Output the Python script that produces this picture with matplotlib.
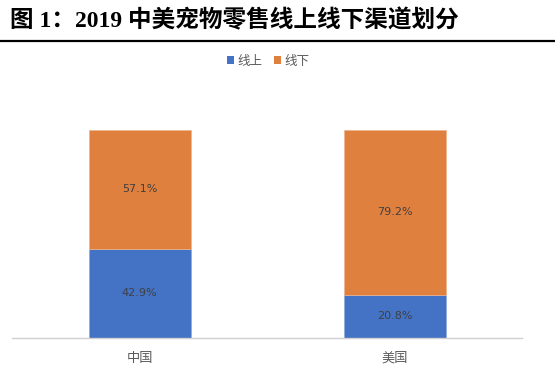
import matplotlib
matplotlib.use("Agg")
import matplotlib.pyplot as plt
from matplotlib.lines import Line2D
from matplotlib.patches import Patch

plt.rcParams['font.family'] = ['Noto Sans CJK SC', 'DejaVu Sans']

categories = ['中国', '美国']
online = [42.9, 20.8]
offline = [57.1, 79.2]
series_names = ['线上', '线下']
title = '图 1：2019 中美宠物零售线上线下渠道划分'

c_online = '#4472C4'
c_offline = '#E0803F'

W, H = 555, 373
fig = plt.figure(figsize=(W / 100, H / 100), dpi=100)

# axes in pixel coords: x 12..522, y 130..338 (top-down)
ax = fig.add_axes([12 / W, 1 - 338 / H, 510 / W, 208 / H])
x = range(len(categories))
b1 = ax.bar(x, online, width=0.4, color=c_online, edgecolor='#8FA9DC', linewidth=0.5)
b2 = ax.bar(x, offline, width=0.4, bottom=online, color=c_offline, edgecolor='#EDB48E', linewidth=0.5)
ax.set_xlim(-0.5, 1.5)
ax.set_ylim(0, 100)
for i in x:
    ax.text(i, online[i] / 2, f'{online[i]:.1f}%', ha='center', va='center',
            fontsize=8, color='#404040', family=['DejaVu Sans'])
    ax.text(i, online[i] + offline[i] / 2, f'{offline[i]:.1f}%', ha='center', va='center',
            fontsize=8, color='#404040', family=['DejaVu Sans'])
for s in ['top', 'right', 'left']:
    ax.spines[s].set_visible(False)
ax.spines['bottom'].set_color('#D0D0D0')
ax.spines['bottom'].set_linewidth(1.0)
ax.set_yticks([])
ax.set_xticks(list(x))
ax.set_xticklabels(categories, fontsize=9.5, color='#595959')
ax.tick_params(axis='x', length=0, pad=10)

handles = [Patch(facecolor=c_online), Patch(facecolor=c_offline)]
fig.legend(handles, series_names, loc='center', bbox_to_anchor=(268 / W, 1 - 61 / H),
           ncol=2, frameon=False, fontsize=9, labelcolor='#595959',
           handlelength=0.55, handleheight=0.55, handletextpad=0.3, columnspacing=0.9)

fig.text(10 / W, 1 - 21 / H, title, ha='left', va='center', fontsize=17, fontweight='bold',
         family=['Liberation Serif', 'Noto Sans CJK SC'], color='black')
fig.add_artist(Line2D([0, 1], [1 - 41 / H, 1 - 41 / H], transform=fig.transFigure,
                      color='black', linewidth=1.6))

fig.savefig('out.png', dpi=100)
